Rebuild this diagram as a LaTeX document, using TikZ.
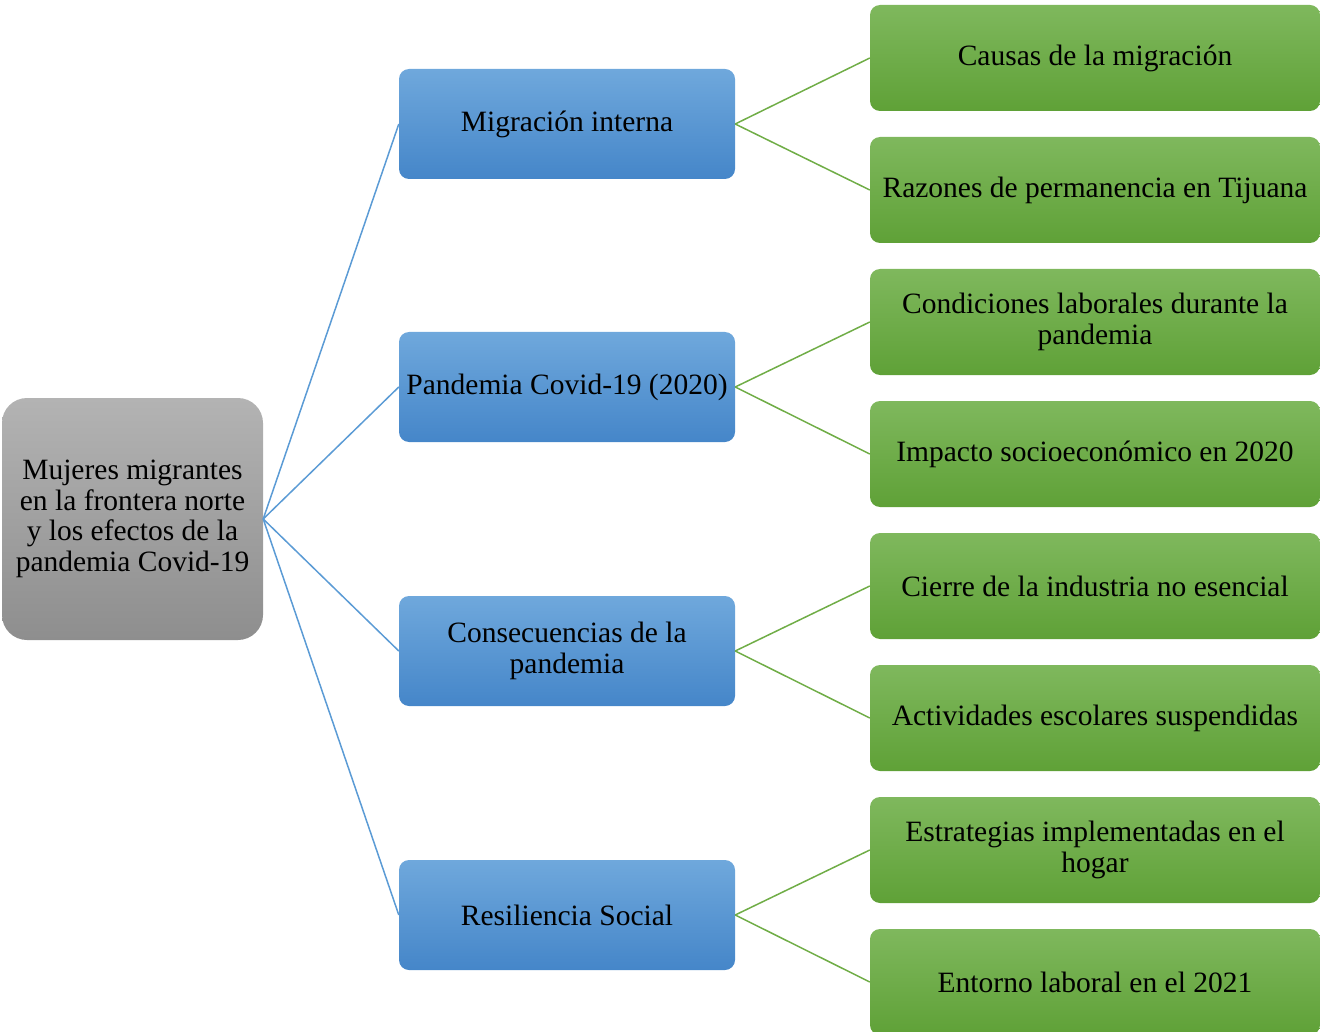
\documentclass[tikz,border=0pt]{standalone}
\usepackage{fontspec}
\setmainfont{Liberation Serif}
\usetikzlibrary{shapes.misc}

\definecolor{linkblue}{HTML}{5B9BD5}
\definecolor{linkgreen}{HTML}{70AD47}
\definecolor{bluetop}{HTML}{6FA8DC}
\definecolor{bluebot}{HTML}{4586C9}
\definecolor{greentop}{HTML}{7FB85D}
\definecolor{greenbot}{HTML}{5FA137}
\definecolor{graytop}{HTML}{B3B3B3}
\definecolor{graybot}{HTML}{8E8E8E}

\begin{document}
\begin{tikzpicture}[x=1pt,y=-1pt,
    every node/.style={font=\fontsize{29.5}{30.5}\selectfont, align=center, inner sep=0pt},
    rootbox/.style={rectangle, rounded corners=25pt, minimum width=261pt, minimum height=242pt,
        top color=graytop, bottom color=graybot},
    topicbox/.style={rectangle, rounded corners=10pt, minimum width=336pt, minimum height=110pt,
        top color=bluetop, bottom color=bluebot},
    itembox/.style={rectangle, rounded corners=10pt, minimum width=450pt, minimum height=106pt,
        top color=greentop, bottom color=greenbot},
    bluelink/.style={draw=linkblue, line width=1.5pt},
    greenlink/.style={draw=linkgreen, line width=1.5pt}]

    % fix page size
    \useasboundingbox (0,0) rectangle (1320,1032);

    % draw root
    \node[rootbox] (root) at (132.5,519) {Mujeres migrantes\\en la frontera norte\\y los efectos de la\\pandemia Covid-19};

    % draw topics
    \node[topicbox] (mig) at (567,124) {Migración interna};
    \node[topicbox] (pan) at (567,387) {Pandemia Covid-19 (2020)};
    \node[topicbox] (con) at (567,651) {Consecuencias de la\\pandemia};
    \node[topicbox] (res) at (567,915) {Resiliencia Social};

    % draw items
    \node[itembox] (causas) at (1095,58) {Causas de la migración};
    \node[itembox] (razones) at (1095,190) {Razones de permanencia en Tijuana};
    \node[itembox] (condiciones) at (1095,322) {Condiciones laborales durante la\\pandemia};
    \node[itembox] (impacto) at (1095,454) {Impacto socioeconómico en 2020};
    \node[itembox] (cierre) at (1095,586) {Cierre de la industria no esencial};
    \node[itembox] (escolares) at (1095,718) {Actividades escolares suspendidas};
    \node[itembox] (estrategias) at (1095,850) {Estrategias implementadas en el\\hogar};
    \node[itembox] (entorno) at (1095,982) {Entorno laboral en el 2021};

    % draw links
    \foreach \t in {mig,pan,con,res}
        \draw[bluelink] (root.east) -- (\t.west);
    \foreach \t/\a/\b in {mig/causas/razones, pan/condiciones/impacto, con/cierre/escolares, res/estrategias/entorno}{
        \draw[greenlink] (\t.east) -- (\a.west);
        \draw[greenlink] (\t.east) -- (\b.west);
    }
\end{tikzpicture}
\end{document}
